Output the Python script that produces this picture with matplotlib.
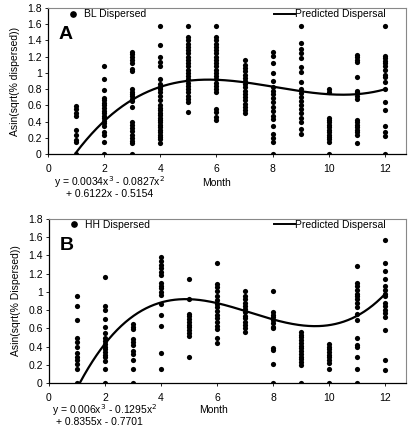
import numpy as np
import matplotlib
matplotlib.use("Agg")
import matplotlib.pyplot as plt
from matplotlib.lines import Line2D

plt.rcParams["font.family"] = ["Liberation Sans", "DejaVu Sans"]

# Panel A: BL dispersed, values per month
bl_values = {
    1: [0.0, 0.15, 0.17, 0.23, 0.30, 0.47, 0.50, 0.55, 0.59],
    2: [1.09, 0.93, 0.79, 0.69, 0.66, 0.63, 0.60, 0.57, 0.53, 0.50, 0.47, 0.44, 0.41,
        0.38, 0.34, 0.27, 0.23, 0.15, 0.0],
    3: [1.26, 1.23, 1.20, 1.16, 1.12, 1.05, 1.02, 0.80, 0.77, 0.74, 0.71, 0.68, 0.65,
        0.58, 0.40, 0.36, 0.32, 0.28, 0.24, 0.20, 0.16, 0.13, 0.0],
    4: [1.58, 1.34, 1.20, 1.14, 1.08, 0.92, 0.86, 0.83, 0.80, 0.76, 0.72, 0.66, 0.60,
        0.57, 0.54, 0.51, 0.48, 0.45, 0.42, 0.39, 0.36, 0.33, 0.30, 0.27, 0.24, 0.21,
        0.18, 0.14],
    5: [1.58, 1.44, 1.40, 1.36, 1.32, 1.28, 1.24, 1.20, 1.16, 1.12, 1.08, 1.04, 1.00,
        0.96, 0.92, 0.88, 0.84, 0.80, 0.76, 0.72, 0.68, 0.64, 0.52],
    6: [1.58, 1.44, 1.40, 1.36, 1.32, 1.28, 1.24, 1.20, 1.16, 1.12, 1.08, 1.04, 1.00,
        0.96, 0.92, 0.88, 0.84, 0.80, 0.76, 0.56, 0.52, 0.46, 0.42],
    7: [1.16, 1.10, 1.06, 1.02, 0.98, 0.94, 0.90, 0.86, 0.82, 0.78, 0.74, 0.70, 0.66,
        0.62, 0.58, 0.54, 0.50],
    8: [1.26, 1.21, 1.12, 1.00, 0.90, 0.83, 0.78, 0.74, 0.69, 0.64, 0.58, 0.53, 0.47,
        0.43, 0.35, 0.25, 0.20, 0.15, 0.0],
    9: [1.58, 1.37, 1.29, 1.24, 1.18, 1.07, 1.01, 0.89, 0.80, 0.75, 0.70, 0.65, 0.60,
        0.55, 0.50, 0.45, 0.40, 0.31, 0.25],
    10: [0.80, 0.76, 0.45, 0.42, 0.39, 0.36, 0.33, 0.30, 0.27, 0.24, 0.21, 0.18, 0.15, 0.0],
    11: [1.22, 1.19, 1.16, 1.13, 0.95, 0.78, 0.76, 0.72, 0.68, 0.42, 0.39, 0.36, 0.33,
         0.30, 0.27, 0.24, 0.14],
    12: [1.58, 1.21, 1.18, 1.15, 1.12, 1.08, 1.03, 0.98, 0.95, 0.89, 0.80, 0.64, 0.54,
         0.35, 0.27, 0.22, 0.0],
}

# Panel B: HH dispersed, values per month
hh_values = {
    1: [0.95, 0.84, 0.69, 0.49, 0.45, 0.40, 0.33, 0.29, 0.25, 0.21, 0.15, 0.0],
    2: [1.16, 0.85, 0.80, 0.70, 0.61, 0.55, 0.49, 0.46, 0.43, 0.40, 0.37, 0.34, 0.31,
        0.28, 0.24, 0.15, 0.0],
    3: [0.65, 0.62, 0.59, 0.48, 0.45, 0.42, 0.35, 0.32, 0.25, 0.15, 0.0],
    4: [1.38, 1.34, 1.30, 1.26, 1.22, 1.18, 1.10, 1.07, 1.04, 1.00, 0.97, 0.87, 0.75,
        0.63, 0.33, 0.15],
    5: [1.14, 0.92, 0.76, 0.73, 0.70, 0.67, 0.64, 0.61, 0.58, 0.55, 0.52, 0.29],
    6: [1.32, 1.09, 1.05, 1.01, 0.96, 0.91, 0.87, 0.83, 0.79, 0.75, 0.71, 0.67, 0.63,
        0.59, 0.49, 0.44],
    7: [1.01, 0.95, 0.92, 0.88, 0.85, 0.81, 0.78, 0.74, 0.71, 0.67, 0.64, 0.60, 0.56],
    8: [1.01, 0.78, 0.75, 0.72, 0.69, 0.66, 0.62, 0.60, 0.38, 0.36, 0.21, 0.0],
    9: [0.56, 0.53, 0.50, 0.47, 0.44, 0.41, 0.38, 0.35, 0.32, 0.29, 0.26, 0.23, 0.20, 0.0],
    10: [0.43, 0.40, 0.37, 0.34, 0.31, 0.28, 0.25, 0.22, 0.15, 0.0],
    11: [1.28, 1.10, 1.06, 1.02, 0.98, 0.95, 0.92, 0.88, 0.83, 0.76, 0.69, 0.49, 0.42,
         0.39, 0.29, 0.15, 0.0],
    12: [1.57, 1.32, 1.23, 1.14, 1.06, 1.02, 0.98, 0.95, 0.88, 0.84, 0.80, 0.77, 0.72,
         0.58, 0.25, 0.14],
}

# fitted cubic coefficients (printed on the chart)
bl_coef = [0.0034, -0.0827, 0.6122, -0.5154]
hh_coef = [0.006, -0.1295, 0.8355, -0.7701]

bl_eq = ["y = 0.0034x$^3$ - 0.0827x$^2$", "+ 0.6122x - 0.5154"]
hh_eq = ["y = 0.006x$^3$ - 0.1295x$^2$", "+ 0.8355x - 0.7701"]

x_ticks = [0, 2, 4, 6, 8, 10, 12]
y_ticks = [0, 0.2, 0.4, 0.6, 0.8, 1, 1.2, 1.4, 1.6, 1.8]
y_ticklabels = ["0", "0.2", "0.4", "0.6", "0.8", "1", "1.2", "1.4", "1.6", "1.8"]

W, H = 418, 428
fig = plt.figure(figsize=(W / 100, H / 100), dpi=100)


def px(x, y):
    # pixel position (from top-left) -> figure fraction
    return x / W, 1 - y / H


def draw_panel(box, values, coef, eq, eq_pos, month_pos, letter, dot_label, ylabel):
    left, top, right, bottom = box
    ax = fig.add_axes([left / W, 1 - bottom / H, (right - left) / W, (bottom - top) / H])
    xs, ys = [], []
    for month, vals in values.items():
        xs += [month] * len(vals)
        ys += vals
    ax.scatter(xs, ys, s=14, color="black", linewidths=0, zorder=3)

    xf = np.linspace(1, 12, 300)
    yf = np.polyval(coef, xf)
    keep = yf >= 0
    ax.plot(xf[keep], yf[keep], color="black", lw=1.6, zorder=4)

    ax.set_xlim(0, 12.75)
    ax.set_ylim(0, 1.8)
    ax.set_xticks(x_ticks)
    ax.set_yticks(y_ticks)
    ax.set_yticklabels(y_ticklabels)
    ax.tick_params(labelsize=7.5, length=2.5, width=0.6, pad=2)
    ax.tick_params(axis="x", pad=5)
    for s in ["top", "right"]:
        ax.spines[s].set_color("#888888")
        ax.spines[s].set_linewidth(0.8)
    for s in ["left", "bottom"]:
        ax.spines[s].set_linewidth(0.9)
    ax.set_ylabel(ylabel, fontsize=7.5, labelpad=5)

    h = bottom - top
    ax.text(0.03, 1 - (box[1] + 0 - top) / h - (26.5 / h), letter, transform=ax.transAxes,
            fontsize=14, fontweight="bold", va="center", ha="left")

    dot = Line2D([], [], marker="o", color="black", ls="", markersize=3.8)
    leg1 = ax.legend([dot], [dot_label], loc="upper left", bbox_to_anchor=(0.045, 1.02),
                     frameon=False, fontsize=7.5, handlelength=1.0, handletextpad=0.5,
                     borderaxespad=0)
    ax.add_artist(leg1)
    line = Line2D([], [], color="black", lw=1.4)
    ax.legend([line], ["Predicted Dispersal"], loc="upper right",
              bbox_to_anchor=(0.955, 1.02), frameon=False, fontsize=7.5,
              handlelength=2.0, handletextpad=0.0, borderaxespad=0)

    (x1, y1), (x2, y2) = eq_pos
    fig.text(*px(x1, y1), eq[0], fontsize=7.5, va="center")
    fig.text(*px(x2, y2), eq[1], fontsize=7.5, va="center")
    fig.text(*px(*month_pos), "Month", fontsize=7.5, va="center")
    return ax


draw_panel((48, 8, 406, 154), bl_values, bl_coef, bl_eq,
           [(54, 182), (66, 194)], (202, 183), "A",
           "BL Dispersed", "Asin(sqrt(% dispersed))")
draw_panel((49, 219, 406, 383), hh_values, hh_coef, hh_eq,
           [(52, 410), (56, 422)], (199, 410), "B",
           "HH Dispersed", "Asin(sqrt(% Dispersed))")

fig.savefig("out.png", dpi=100)
